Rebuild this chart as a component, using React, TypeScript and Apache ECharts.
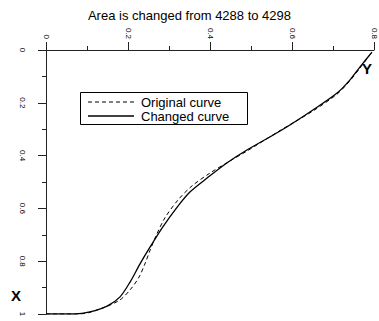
import React, { useEffect, useRef } from "react";
import * as echarts from "echarts";

const titleText = "Area is changed from 4288 to 4298";
const hTicks = ["0", "0.2", "0.4", "0.6", "0.8"];
const vTicks = ["0", "0.2", "0.4", "0.6", "0.8", "1"];
const legendNames = ["Original curve", "Changed curve"];

// Changed curve (solid): horizontal value (Y), vertical value (X)
const changedH = [0, 0.071, 0.107, 0.149, 0.18, 0.205, 0.229, 0.254, 0.285, 0.32, 0.351, 0.393, 0.441, 0.49, 0.571, 0.651, 0.71, 0.741, 0.766, 0.795];
const changedV = [1, 1.0, 0.992, 0.97, 0.936, 0.879, 0.811, 0.746, 0.67, 0.595, 0.538, 0.485, 0.428, 0.379, 0.307, 0.227, 0.163, 0.114, 0.064, 0.008];

// Original curve (dashed)
const originalH = [0, 0.083, 0.132, 0.18, 0.207, 0.227, 0.241, 0.254, 0.268, 0.29, 0.322, 0.356, 0.4, 0.449, 0.49, 0.571, 0.651, 0.71, 0.741, 0.766, 0.795];
const originalV = [1, 1.0, 0.981, 0.947, 0.905, 0.86, 0.811, 0.758, 0.705, 0.636, 0.568, 0.515, 0.466, 0.42, 0.383, 0.305, 0.231, 0.167, 0.117, 0.068, 0.008];

const FONT = "'Liberation Sans', Arial, sans-serif";

export default function App() {
  const ref = useRef<HTMLDivElement>(null);
  useEffect(() => {
    document.body.style.margin = "0";
    const chart = echarts.init(ref.current!, null, { renderer: "svg" });
    chart.setOption({
      animation: false,
      backgroundColor: "#fff",
      title: {
        text: titleText,
        left: "center",
        top: 4,
        textStyle: { fontFamily: FONT, fontSize: 13, fontWeight: "normal", color: "#000" },
      },
      grid: { left: 46, top: 50, width: 328, height: 264 },
      xAxis: {
        type: "value",
        position: "top",
        min: 0,
        max: 0.8,
        interval: 0.2,
        splitLine: { show: false },
        axisLine: { lineStyle: { color: "#222", width: 1 } },
        axisTick: { show: true, length: 8, lineStyle: { color: "#222" } },
        minorTick: { show: true, splitNumber: 2, length: 4, lineStyle: { color: "#222" } },
        axisLabel: {
          rotate: -90,
          margin: 11,
          fontSize: 8,
          fontFamily: FONT,
          color: "#000",
          formatter: (v: number) => hTicks[Math.round(v / 0.2)] ?? String(v),
        },
      },
      yAxis: {
        type: "value",
        inverse: true,
        min: 0,
        max: 1,
        interval: 0.2,
        splitLine: { show: false },
        axisLine: { lineStyle: { color: "#222", width: 1 } },
        axisTick: { show: true, length: 8, lineStyle: { color: "#222" } },
        minorTick: { show: true, splitNumber: 2, length: 4, lineStyle: { color: "#222" } },
        axisLabel: {
          rotate: -90,
          margin: 20,
          fontSize: 8,
          fontFamily: FONT,
          color: "#000",
          formatter: (v: number) => vTicks[Math.round(v / 0.2)] ?? String(v),
        },
      },
      series: [
        {
          name: legendNames[0],
          type: "line",
          symbol: "none",
          smooth: 0.3,
          lineStyle: { color: "#000", width: 1, type: [4, 3] },
          itemStyle: { color: "#000" },
          data: originalH.map((h, i) => [h, originalV[i]]),
        },
        {
          name: legendNames[1],
          type: "line",
          symbol: "none",
          smooth: 0.3,
          lineStyle: { color: "#000", width: 1.3 },
          itemStyle: { color: "#000" },
          data: changedH.map((h, i) => [h, changedV[i]]),
        },
      ],
      graphic: [
        {
          type: "rect",
          shape: { x: 80.5, y: 92.5, width: 167, height: 32 },
          style: { fill: "#fff", stroke: "#000", lineWidth: 1 },
          z: 10,
        },
        {
          type: "line",
          shape: { x1: 88, y1: 102, x2: 134, y2: 102 },
          style: { stroke: "#000", lineWidth: 1, lineDash: [4, 3] },
          z: 11,
        },
        {
          type: "line",
          shape: { x1: 88, y1: 116, x2: 134, y2: 116 },
          style: { stroke: "#000", lineWidth: 1.3 },
          z: 11,
        },
        {
          type: "text",
          x: 141,
          y: 102,
          style: { text: legendNames[0], font: `13px ${FONT}`, lineHeight: 13, fill: "#000", verticalAlign: "middle" },
          z: 11,
        },
        {
          type: "text",
          x: 141,
          y: 116,
          style: { text: legendNames[1], font: `13px ${FONT}`, lineHeight: 13, fill: "#000", verticalAlign: "middle" },
          z: 11,
        },
        {
          type: "text",
          x: 362,
          y: 61,
          style: { text: "Y", font: `bold 15px ${FONT}`, fill: "#000" },
        },
        {
          type: "text",
          x: 11,
          y: 288,
          style: { text: "X", font: `bold 15px ${FONT}`, fill: "#000" },
        },
      ],
    });
    return () => chart.dispose();
  }, []);
  return <div ref={ref} style={{ width: 379, height: 321 }} />;
}
